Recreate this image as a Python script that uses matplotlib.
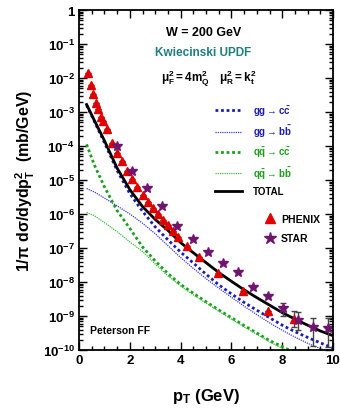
import numpy as np
import matplotlib
matplotlib.use("Agg")
import matplotlib.pyplot as plt
from matplotlib.ticker import MultipleLocator, LogLocator, FixedLocator, NullFormatter

plt.rcParams['font.family'] = ['Liberation Sans', 'DejaVu Sans']
plt.rcParams['font.weight'] = 'bold'
plt.rcParams['mathtext.fontset'] = 'custom'
plt.rcParams['mathtext.rm'] = 'Liberation Sans:bold'
plt.rcParams['mathtext.bf'] = 'Liberation Sans:bold'
plt.rcParams['mathtext.it'] = 'Liberation Sans:bold'
plt.rcParams['mathtext.sf'] = 'Liberation Sans:bold'

# PHENIX data
phenix_pt = [0.37, 0.46, 0.56, 0.66, 0.75, 0.85, 0.96, 1.10, 1.30, 1.50, 1.70, 1.90, 2.10, 2.30,
             2.50, 2.70, 2.90, 3.10, 3.30, 3.50, 3.70, 3.90, 4.25, 4.73, 5.49, 6.47, 7.45, 8.46]
phenix_y = [1.4e-2, 6.2e-3, 3.5e-3, 1.9e-3, 1.26e-3, 7.1e-4, 5.4e-4, 3.1e-4, 1.2e-4, 6.2e-5,
            3.7e-5, 1.9e-5, 1.07e-5, 6.3e-6, 3.7e-6, 2.3e-6, 1.48e-6, 9.8e-7, 6.8e-7, 4.7e-7,
            3.2e-7, 2.1e-7, 1.17e-7, 5.5e-8, 1.78e-8, 5.6e-9, 1.41e-9, 8.1e-10]
phenix_lo = [0] * 27 + [3.2e-10]
phenix_hi = [0] * 27 + [6.0e-10]

# STAR data
star_pt = [1.51, 2.10, 2.69, 3.28, 3.87, 4.47, 5.09, 5.68, 6.27, 6.86, 7.45, 8.04, 8.63, 9.22, 9.81]
star_y = [1.02e-4, 1.9e-5, 5.8e-6, 1.74e-6, 4.5e-7, 1.78e-7, 7.8e-8, 3.6e-8, 1.95e-8, 7.1e-9,
          3.8e-9, 1.7e-9, 7.8e-10, 4.9e-10, 4.4e-10]
star_lo = [0] * 11 + [0.7e-9, 3.9e-10, 3.55e-10, 3.14e-10]
star_hi = [0] * 11 + [0.7e-9, 5.7e-10, 4.0e-10, 4.3e-10]

# model curves (log10 of the cross section)
pt = [0.3, 0.6, 1.0, 1.5, 2.0, 2.5, 3.0, 3.5, 4.0, 4.5, 5.0, 5.5, 6.0, 6.5, 7.0, 7.5, 8.0, 8.5, 9.0, 9.5, 10.0]
log_total = [-2.78, -3.24, -3.84, -4.65, -5.28, -5.78, -6.16, -6.48, -6.84, -7.14, -7.43, -7.72,
             -7.98, -8.23, -8.46, -8.68, -8.90, -9.09, -9.27, -9.44, -9.58]
log_gg_cc = [-2.80, -3.27, -3.90, -4.72, -5.40, -5.92, -6.38, -6.76, -7.12, -7.44, -7.77, -8.08,
             -8.35, -8.60, -8.83, -9.05, -9.27, -9.46, -9.63, -9.79, -9.94]
log_gg_bb = [-5.25, -5.35, -5.53, -5.76, -6.00, -6.27, -6.58, -6.93, -7.28, -7.60, -7.90, -8.18,
             -8.45, -8.71, -8.96, -9.20, -9.42, -9.62, -9.80, -9.96, -10.10]
log_qq_cc = [-3.95, -4.55, -5.20, -5.90, -6.42, -6.97, -7.38, -7.75, -8.07, -8.33, -8.58, -8.82,
             -9.05, -9.28, -9.50, -9.72, -9.90, -10.08, -10.25, -10.4, -10.55]
log_qq_bb = [-5.95, -6.05, -6.25, -6.52, -6.82, -7.10, -7.47, -7.82, -8.12, -8.38, -8.62, -8.86,
             -9.09, -9.32, -9.54, -9.76, -9.95, -10.12, -10.3, -10.45, -10.6]

fig = plt.figure(figsize=(3.4, 4.14), dpi=100)
ax = fig.add_axes([79 / 340, 63 / 414, 254 / 340, 340 / 414])

h1, = ax.plot(pt, 10 ** np.array(log_gg_cc), color='#1c1cb4', lw=2.0, dashes=(1, 1))
h2, = ax.plot(pt, 10 ** np.array(log_gg_bb), color='#3c3cd8', lw=0.9, dashes=(1, 0.8))
h3, = ax.plot(pt, 10 ** np.array(log_qq_cc), color='#1aa01a', lw=2.0, dashes=(1, 1))
h4, = ax.plot(pt, 10 ** np.array(log_qq_bb), color='#3cbc3c', lw=0.9, dashes=(1, 0.8))
h5, = ax.plot(pt, 10 ** np.array(log_total), color='black', lw=2.0)

ax.errorbar(phenix_pt, phenix_y, yerr=[phenix_lo, phenix_hi], fmt='none', ecolor='#444444',
            elinewidth=1.0, capsize=2)
ax.errorbar(star_pt, star_y, yerr=[star_lo, star_hi], fmt='none', ecolor='#444444',
            elinewidth=1.0, capsize=2)
h6, = ax.plot(phenix_pt, phenix_y, '^', color='#e00000', ms=5.6, mec='#e00000', ls='none')
h7, = ax.plot(star_pt, star_y, '*', color='#701470', ms=7, ls='none')

ax.set_yscale('log')
ax.set_xlim(0, 10)
ax.set_ylim(1e-10, 1)

ax.xaxis.set_major_locator(MultipleLocator(2))
ax.xaxis.set_minor_locator(MultipleLocator(0.5))
ax.yaxis.set_major_locator(FixedLocator([10.0 ** k for k in range(-10, 1)]))
ax.yaxis.set_minor_locator(LogLocator(base=10, subs=np.arange(2, 10), numticks=30))
ax.yaxis.set_minor_formatter(NullFormatter())
ylabels = [r'$\mathbf{10^{%d}}$' % k for k in range(-10, 0)] + ['1']
ax.set_yticklabels(ylabels)
ax.tick_params(which='both', direction='in', top=True, right=True, width=1.0)
ax.tick_params(which='major', length=6, labelsize=9.5, pad=3)
ax.tick_params(which='minor', length=3)
for lbl in ax.get_xticklabels() + ax.get_yticklabels():
    lbl.set_fontweight('bold')
for s in ax.spines.values():
    s.set_linewidth(1.3)

ax.set_xlabel(r'$\mathbf{p_T}$ (GeV)', fontsize=12, fontweight='bold', labelpad=14)
ax.set_ylabel(r'$\mathbf{1/\pi\ d\sigma/dydp_T^2}$  (mb/GeV)', fontsize=11.5, fontweight='bold',
              labelpad=4)

ax.text(0.49, 0.935, 'W = 200 GeV', transform=ax.transAxes, ha='center', va='center',
        fontsize=9, fontweight='bold')
ax.text(0.49, 0.877, 'Kwiecinski UPDF', transform=ax.transAxes, ha='center', va='center',
        fontsize=8.5, fontweight='bold', color='#1f7f7f')
ax.text(0.51, 0.80, r'$\mathbf{\mu_F^2 = 4m_Q^2\quad\mu_R^2 = k_t^2}$', transform=ax.transAxes,
        ha='center', va='center', fontsize=8.5)
ax.text(0.045, 0.06, 'Peterson FF', transform=ax.transAxes, ha='left', va='center',
        fontsize=7.5, fontweight='bold')

labels = [r'$\mathbf{gg \rightarrow c\bar{c}}$', r'$\mathbf{gg \rightarrow b\bar{b}}$',
          r'$\mathbf{q\bar{q} \rightarrow c\bar{c}}$', r'$\mathbf{q\bar{q} \rightarrow b\bar{b}}$',
          'TOTAL']
leg1 = ax.legend([h1, h2, h3, h4, h5], labels, loc='upper left', bbox_to_anchor=(0.535, 0.725),
                 frameon=False, fontsize=7, handlelength=2.8, handletextpad=1.1, labelspacing=0.55,
                 borderpad=0, borderaxespad=0)
for t, c in zip(leg1.get_texts(), ['#1c1cb4', '#1c1cb4', '#1aa01a', '#1aa01a', 'black']):
    t.set_color(c)
ax.add_artist(leg1)
ax.legend([h6, h7], ['PHENIX', 'STAR'], loc='upper left', bbox_to_anchor=(0.73, 0.40),
          frameon=False, handlelength=1.0, handletextpad=0.6, labelspacing=0.9, markerscale=1.3,
          borderpad=0, borderaxespad=0, prop={'weight': 'bold', 'size': 7.5})

fig.savefig('out.png', dpi=100)
